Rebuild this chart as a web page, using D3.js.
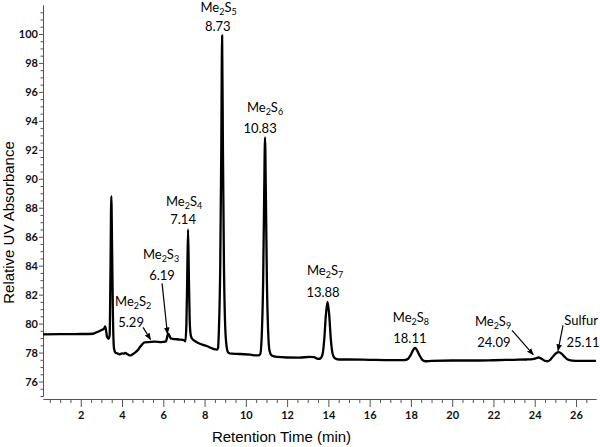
<!DOCTYPE html>
<html><head><meta charset="utf-8">
<script src="https://cdn.jsdelivr.net/npm/d3@7"></script>
<style>body{margin:0;background:#fff} svg{display:block}</style>
</head><body><svg id="c" width="600" height="447"></svg>
<script>
// ---- data ----
const times = [0.17,1.0,2.0,2.6,2.79,2.95,3.05,3.13,3.18,3.23,3.27,3.35,3.4,3.44,3.48,3.52,3.56,3.61,3.68,3.76,3.9,4.0,4.08,4.15,4.25,4.32,4.4,4.48,4.55,4.63,4.78,4.88,4.97,5.1,5.3,5.6,5.9,6.1,6.15,6.2,6.24,6.3,6.36,6.45,6.8,7.0,7.07,7.12,7.16,7.2,7.24,7.28,7.33,7.4,7.5,7.64,8.1,8.6,8.65,8.7,8.76,8.81,8.85,8.89,8.94,9.0,9.07,9.15,9.3,9.7,10.2,10.6,10.7,10.78,10.84,10.89,10.93,10.97,11.02,11.08,11.15,11.25,11.5,12.0,12.6,13.1,13.3,13.5,13.62,13.72,13.8,13.88,13.96,14.04,14.12,14.2,14.3,14.5,15.0,16.0,17.0,17.7,17.85,17.98,18.1,18.2,18.3,18.42,18.55,18.7,19.0,20.0,21.0,22.0,23.0,23.6,23.9,24.05,24.18,24.32,24.5,24.62,24.75,24.9,25.05,25.17,25.3,25.45,25.6,25.8,26.2,26.97];
const absorbance = [79.25,79.27,79.28,79.3,79.42,79.5,79.58,79.65,79.8,79.5,79.1,78.95,79.2,83.5,88.8,85,80.5,78.3,78.0,77.95,77.88,77.95,77.92,77.97,77.9,77.83,77.8,77.85,77.92,78.0,78.2,78.4,78.55,78.7,78.72,78.75,78.72,78.75,78.85,79.15,79.3,79.15,78.98,78.95,78.9,78.85,78.78,80.0,83.2,86.5,83.2,80.2,79.2,78.95,78.82,78.7,78.45,78.2,78.3,79.8,84,92,99.9,92,84,79.8,78.4,78.0,77.92,77.9,77.85,77.8,77.9,79.5,83,89,92.85,89,83,79.5,78.1,77.8,77.7,77.66,77.65,77.7,77.68,77.56,77.6,77.9,78.9,80.6,81.5,80.6,78.9,77.95,77.62,77.52,77.52,77.5,77.48,77.48,77.55,77.8,78.15,78.33,78.15,77.8,77.5,77.4,77.43,77.45,77.45,77.47,77.5,77.52,77.55,77.6,77.66,77.58,77.42,77.4,77.5,77.75,77.97,78.03,77.92,77.7,77.52,77.45,77.42,77.42];

const xTickValues = [2,4,6,8,10,12,14,16,18,20,22,24,26];
const yTickValues = [76,78,80,82,84,86,88,90,92,94,96,98,100];

const peakNames = ["Me2S2","Me2S3","Me2S4","Me2S5","Me2S6","Me2S7","Me2S8","Me2S9","Sulfur"];
const peakTimeLabels = ["5.29","6.19","7.14","8.73","10.83","13.88","18.11","24.09","25.11"];

// ---- annotation layout (data units) ----
const nameAt = [[4.54,81.19],[5.89,84.44],[7.01,88.1],[8.68,101.5],[10.93,94.61],[13.84,83.33],[18.0,80.08],[21.98,79.81],[26.25,79.88]];
const timeAt = [[4.44,79.74],[5.94,82.99],[6.96,86.9],[8.64,100.21],[10.69,93.15],[13.74,81.81],[17.95,78.63],[22.02,78.35],[26.34,78.35]];
const arrows = [
  {from:[5.02,79.74], to:[5.38,78.9]},
  {from:[5.94,82.78], to:[6.2,79.3]},
  {from:[22.9,79.53], to:[23.93,77.85]},
  {from:[25.37,79.88], to:[25.13,78.13]}
];

// ---- chart ----
const svg = d3.select("#c");
const x = d3.scaleLinear().domain([0.17, 26.97]).range([43, 596]);
const y = d3.scaleLinear().domain([75, 102]).range([396, 5]);
const xAxisY = 399;

const tickFont = "Lato, 'Open Sans', sans-serif";
const axisColor = "#555";

// minor ticks
const xMinor = d3.range(0.5, 26.97, 0.5).filter(v => v % 2 !== 0);
const yMinor = d3.range(75, 102.01, 0.5).filter(v => v % 2 !== 0);

const gxMinor = svg.append("g").attr("transform", `translate(0,${xAxisY})`)
  .call(d3.axisBottom(x).tickValues(xMinor).tickSize(4).tickFormat("").tickSizeOuter(0));
const gx = svg.append("g").attr("transform", `translate(0,${xAxisY})`)
  .call(d3.axisBottom(x).tickValues(xTickValues).tickSize(8).tickPadding(4).tickSizeOuter(0));
const gyMinor = svg.append("g").attr("transform", `translate(${x(0.17)},0)`)
  .call(d3.axisLeft(y).tickValues(yMinor).tickSize(2.5).tickFormat("").tickSizeOuter(0));
const gy = svg.append("g").attr("transform", `translate(${x(0.17)},0)`)
  .call(d3.axisLeft(y).tickValues(yTickValues).tickSize(4).tickPadding(1).tickSizeOuter(0));

[gxMinor, gyMinor].forEach(g => g.selectAll("text").remove());
[gxMinor, gx, gyMinor, gy].forEach(g => {
  g.selectAll("path,line").attr("stroke", axisColor).attr("stroke-width", 1);
  g.selectAll("text").attr("font-family", tickFont).attr("font-size", 11)
    .attr("font-weight", "bold").attr("fill", "#111");
});

// trace
const pts = times.map((t, i) => [t, absorbance[i]]);
svg.append("path").datum(pts)
  .attr("fill", "none").attr("stroke", "#000").attr("stroke-width", 2.3)
  .attr("stroke-linejoin", "round")
  .attr("d", d3.line().x(d => x(d[0])).y(d => y(d[1])).curve(d3.curveMonotoneX));

// axis titles
svg.append("text")
  .attr("transform", `translate(14,${(y(75)+y(102))/2 + 22}) rotate(-90)`)
  .attr("text-anchor", "middle").attr("font-family", "Liberation Sans, Arial, sans-serif")
  .attr("font-size", 15).attr("fill", "#000").text("Relative UV Absorbance");
svg.append("text")
  .attr("x", (x(0.17)+x(26.97))/2 - 38).attr("y", 442)
  .attr("text-anchor", "middle").attr("font-family", "Liberation Sans, Arial, sans-serif")
  .attr("font-size", 15).attr("fill", "#000").text("Retention Time (min)");

// annotations
const annFont = "Lato, 'Open Sans', sans-serif";
const ann = svg.append("g").attr("font-family", annFont).attr("font-size", 13).attr("fill", "#000");
peakNames.forEach((name, i) => {
  const t = ann.append("text").attr("x", x(nameAt[i][0])).attr("y", y(nameAt[i][1]))
    .attr("text-anchor", "middle");
  const parts = name.match(/(\d+|\D+)/g);
  let shifted = false;
  parts.forEach(p => {
    const isSub = /^\d+$/.test(p);
    const ts = t.append("tspan").text(p);
    if (isSub) { ts.attr("font-size", 9).attr("dy", 3); shifted = true; }
    else if (shifted) { ts.attr("dy", -3); shifted = false; }
  });
  ann.append("text").attr("x", x(timeAt[i][0])).attr("y", y(timeAt[i][1]))
    .attr("text-anchor", "middle").text(peakTimeLabels[i]);
});

svg.append("defs").append("marker")
  .attr("id", "ah").attr("viewBox", "0 0 10 8").attr("refX", 9).attr("refY", 4)
  .attr("markerWidth", 7).attr("markerHeight", 6).attr("markerUnits", "userSpaceOnUse")
  .attr("orient", "auto")
  .append("path").attr("d", "M0,0 L10,4 L0,8 Z").attr("fill", "#000");

svg.append("g").selectAll("line").data(arrows).join("line")
  .attr("x1", d => x(d.from[0])).attr("y1", d => y(d.from[1]))
  .attr("x2", d => x(d.to[0])).attr("y2", d => y(d.to[1]))
  .attr("stroke", "#000").attr("stroke-width", 1.2)
  .attr("marker-end", "url(#ah)");
</script>
</body></html>
